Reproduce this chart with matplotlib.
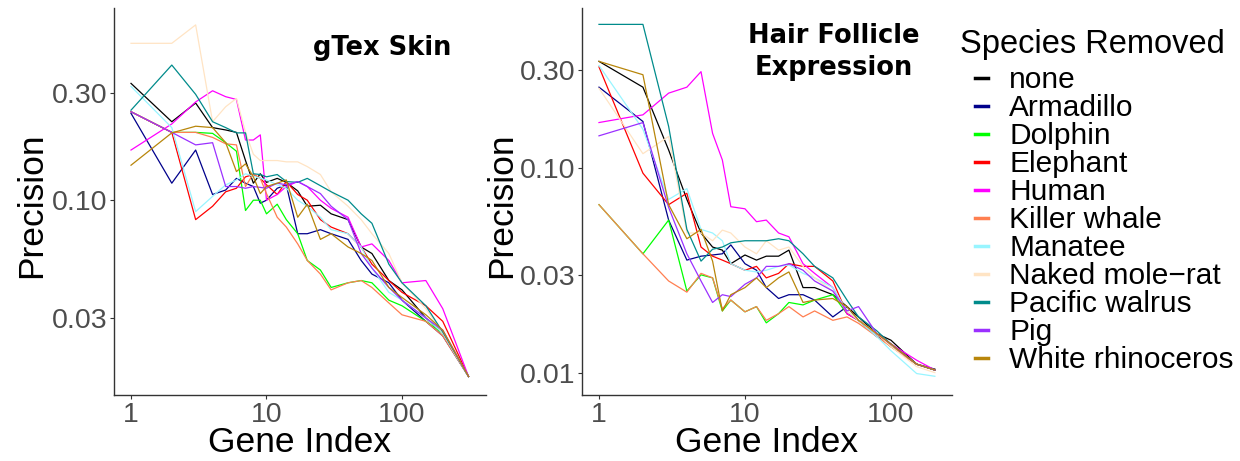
import matplotlib.pyplot as plt
from matplotlib.lines import Line2D

plt.rcParams['font.family'] = ['Liberation Sans', 'DejaVu Sans']

species = ['none', 'Armadillo', 'Dolphin', 'Elephant', 'Human', 'Killer whale',
           'Manatee', 'Naked mole\u2212rat', 'Pacific walrus', 'Pig', 'White rhinoceros']
colors = ['#000000', '#00008B', '#00FF00', '#FF0000', '#FF00FF', '#FF7F50',
          '#98F5FF', '#FFE4C4', '#008B8B', '#9B30FF', '#B8860B']

# gTex skin panel
skin_idx = [1, 2, 3, 4, 5, 6, 7, 8, 9, 10, 12, 14, 17, 20, 25, 30, 40, 50, 60, 80, 100, 150, 200, 310]
skin_none = [0.33, 0.223, 0.27, 0.21, 0.205, 0.2, 0.15, 0.119, 0.131, 0.12, 0.125, 0.12, 0.11, 0.094,
             0.095, 0.087, 0.082, 0.062, 0.058, 0.044, 0.040, 0.030, 0.0257, 0.0165]
skin_armadillo = [0.243, 0.119, 0.167, 0.106, 0.111, 0.125, 0.119, 0.115, 0.097, 0.1, 0.113, 0.117, 0.071,
                  0.071, 0.074, 0.071, 0.067, 0.054, 0.047, 0.043, 0.036, 0.029, 0.025, 0.0165]
skin_dolphin = [0.247, 0.2, 0.2, 0.198, 0.18, 0.165, 0.09, 0.1, 0.1, 0.087, 0.096, 0.082, 0.071, 0.054,
                0.049, 0.041, 0.043, 0.044, 0.043, 0.036, 0.034, 0.029, 0.0257, 0.0165]
skin_elephant = [0.247, 0.2, 0.082, 0.094, 0.109, 0.113, 0.127, 0.13, 0.125, 0.117, 0.106, 0.121, 0.106,
                 0.1, 0.082, 0.076, 0.071, 0.062, 0.052, 0.044, 0.039, 0.034, 0.029, 0.0165]
skin_human = [0.167, 0.218, 0.273, 0.306, 0.288, 0.28, 0.185, 0.185, 0.195, 0.1, 0.106, 0.115, 0.121,
              0.115, 0.1, 0.092, 0.084, 0.062, 0.064, 0.054, 0.043, 0.044, 0.033, 0.0165]
skin_killer_whale = [0.247, 0.2, 0.2, 0.19, 0.178, 0.176, 0.115, 0.131, 0.125, 0.107, 0.084, 0.076, 0.064,
                     0.054, 0.047, 0.04, 0.043, 0.044, 0.041, 0.035, 0.031, 0.029, 0.025, 0.0165]
skin_manatee = [0.32, 0.21, 0.089, 0.104, 0.117, 0.123, 0.131, 0.128, 0.125, 0.123, 0.117, 0.113, 0.1,
                0.094, 0.084, 0.074, 0.071, 0.062, 0.05, 0.039, 0.036, 0.030, 0.0257, 0.0165]
skin_mole_rat = [0.497, 0.497, 0.6, 0.223, 0.26, 0.283, 0.2, 0.16, 0.15, 0.15, 0.15, 0.148, 0.148, 0.141,
                 0.13, 0.109, 0.094, 0.082, 0.071, 0.058, 0.043, 0.033, 0.0257, 0.0165]
skin_walrus = [0.251, 0.398, 0.295, 0.223, 0.21, 0.199, 0.199, 0.131, 0.13, 0.127, 0.13, 0.121, 0.12,
               0.125, 0.116, 0.109, 0.1, 0.087, 0.079, 0.052, 0.043, 0.034, 0.026, 0.0165]
skin_pig = [0.247, 0.2, 0.176, 0.18, 0.115, 0.115, 0.113, 0.115, 0.114, 0.113, 0.119, 0.117, 0.121, 0.115,
            0.107, 0.094, 0.082, 0.058, 0.05, 0.041, 0.036, 0.030, 0.0265, 0.0165]
skin_rhino = [0.143, 0.199, 0.213, 0.21, 0.18, 0.134, 0.145, 0.127, 0.107, 0.115, 0.119, 0.123, 0.084,
              0.096, 0.067, 0.071, 0.062, 0.058, 0.054, 0.041, 0.037, 0.031, 0.0265, 0.0165]

# hair follicle panel
hair_idx = [1, 2, 3, 4, 5, 6, 7, 8, 10, 12, 14, 17, 20, 25, 30, 40, 50, 60, 80, 100, 150, 200]
hair_none = [0.33, 0.247, 0.122, 0.07, 0.048, 0.041, 0.0396, 0.034, 0.0375, 0.0354, 0.037, 0.037, 0.0396,
             0.026, 0.026, 0.024, 0.021, 0.0187, 0.0155, 0.0144, 0.011, 0.0104]
hair_armadillo = [0.247, 0.168, 0.0555, 0.0354, 0.037, 0.0375, 0.038, 0.042, 0.034, 0.0316, 0.026, 0.023,
                  0.024, 0.024, 0.0226, 0.0187, 0.021, 0.018, 0.015, 0.0138, 0.011, 0.0103]
hair_dolphin = [0.066, 0.038, 0.0555, 0.025, 0.03, 0.029, 0.02, 0.0226, 0.0198, 0.021, 0.0175, 0.0194,
                0.022, 0.0214, 0.0226, 0.024, 0.0194, 0.018, 0.0155, 0.0134, 0.011, 0.0103]
hair_elephant = [0.31, 0.094, 0.066, 0.075, 0.041, 0.037, 0.0354, 0.034, 0.0316, 0.033, 0.029, 0.0305,
                 0.034, 0.033, 0.033, 0.028, 0.0194, 0.018, 0.0155, 0.0134, 0.011, 0.0103]
hair_human = [0.166, 0.181, 0.231, 0.247, 0.294, 0.147, 0.109, 0.0645, 0.063, 0.0545, 0.0555, 0.048, 0.046,
              0.034, 0.0305, 0.026, 0.0194, 0.018, 0.0155, 0.0138, 0.0115, 0.0103]
hair_killer_whale = [0.066, 0.038, 0.028, 0.0247, 0.0305, 0.029, 0.0205, 0.0226, 0.0198, 0.021, 0.018,
                     0.0194, 0.021, 0.0187, 0.020, 0.018, 0.0187, 0.0174, 0.015, 0.0134, 0.011, 0.0103]
hair_manatee = [0.315, 0.154, 0.07, 0.079, 0.05, 0.048, 0.044, 0.034, 0.0316, 0.031, 0.0316, 0.033, 0.0335,
                0.0305, 0.029, 0.026, 0.02, 0.018, 0.015, 0.0128, 0.0099, 0.0096]
hair_mole_rat = [0.244, 0.117, 0.142, 0.048, 0.048, 0.044, 0.0496, 0.048, 0.041, 0.038, 0.044, 0.0396,
                 0.041, 0.033, 0.029, 0.025, 0.02, 0.018, 0.0155, 0.0134, 0.0107, 0.010]
hair_walrus = [0.5, 0.5, 0.159, 0.05, 0.035, 0.04, 0.041, 0.043, 0.044, 0.044, 0.044, 0.045, 0.044, 0.038,
               0.033, 0.029, 0.0226, 0.0187, 0.016, 0.0138, 0.011, 0.0103]
hair_pig = [0.143, 0.166, 0.064, 0.038, 0.028, 0.022, 0.024, 0.0235, 0.027, 0.029, 0.033, 0.033, 0.034,
            0.0316, 0.028, 0.025, 0.02, 0.021, 0.0155, 0.0138, 0.011, 0.0103]
hair_rhino = [0.33, 0.284, 0.066, 0.045, 0.05, 0.035, 0.02, 0.024, 0.026, 0.029, 0.026, 0.029, 0.031,
              0.022, 0.0226, 0.023, 0.021, 0.018, 0.0155, 0.0138, 0.011, 0.0103]

skin_series = [skin_none, skin_armadillo, skin_dolphin, skin_elephant, skin_human, skin_killer_whale,
               skin_manatee, skin_mole_rat, skin_walrus, skin_pig, skin_rhino]
hair_series = [hair_none, hair_armadillo, hair_dolphin, hair_elephant, hair_human, hair_killer_whale,
               hair_manatee, hair_mole_rat, hair_walrus, hair_pig, hair_rhino]

fig = plt.figure(figsize=(12.4, 4.61), dpi=100)
ax1 = fig.add_axes([114 / 1240, 66 / 461, 372 / 1240, 387 / 461])
ax2 = fig.add_axes([582 / 1240, 66 / 461, 370 / 1240, 387 / 461])


def style_panel(ax, idx, series, yticks, ylim, xlim, ylab_x):
    for vals, c in zip(series, colors):
        ax.plot(idx, vals, color=c, lw=0.9)
    ax.set_xscale('log')
    ax.set_yscale('log')
    ax.set_xlim(*xlim)
    ax.set_ylim(*ylim)
    ax.set_xticks([1, 10, 100])
    ax.set_xticklabels(['1', '10', '100'])
    ax.set_yticks(yticks)
    ax.set_yticklabels(['%.2f' % v for v in yticks])
    ax.minorticks_off()
    for s in ['top', 'right']:
        ax.spines[s].set_visible(False)
    for s in ['left', 'bottom']:
        ax.spines[s].set_color('#333333')
        ax.spines[s].set_linewidth(1.0)
    ax.tick_params(length=3, width=0.8, color='#333333', labelsize=20.5,
                   labelcolor='#4D4D4D', pad=2)
    ax.set_ylabel('Precision', fontsize=25.5)
    ax.set_xlabel('Gene Index', fontsize=25.5)
    ax.yaxis.set_label_coords(ylab_x, 0.49)
    ax.xaxis.set_label_coords(0.5, -0.08)


style_panel(ax1, skin_idx, skin_series, [0.03, 0.10, 0.30], (0.01366, 0.713), (0.749, 417), -0.177)
style_panel(ax2, hair_idx, hair_series, [0.01, 0.03, 0.10, 0.30], (0.00778, 0.601), (0.765, 262), -0.173)

ax1.text(0.72, 0.897, 'gTex Skin', transform=ax1.transAxes, ha='center', va='center',
         fontsize=18.5, fontweight='bold', family='DejaVu Sans')
ax2.text(0.68, 0.886, 'Hair Follicle\nExpression', transform=ax2.transAxes, ha='center', va='center',
         fontsize=18.5, fontweight='bold', family='DejaVu Sans', linespacing=1.3)

fig.text(960 / 1240, 1 - 45 / 461, 'Species Removed', fontsize=23.5, ha='left', va='center')

handles = [Line2D([], [], color=c, lw=2.5) for c in colors]
leg = fig.legend(handles, species, loc='upper left', bbox_to_anchor=(975 / 1240, 1 - 66 / 461),
                 frameon=False, fontsize=21.5, handlelength=0.45, handletextpad=0.7,
                 labelspacing=0.0, borderpad=0, borderaxespad=0)

fig.savefig('out.png', dpi=100)
